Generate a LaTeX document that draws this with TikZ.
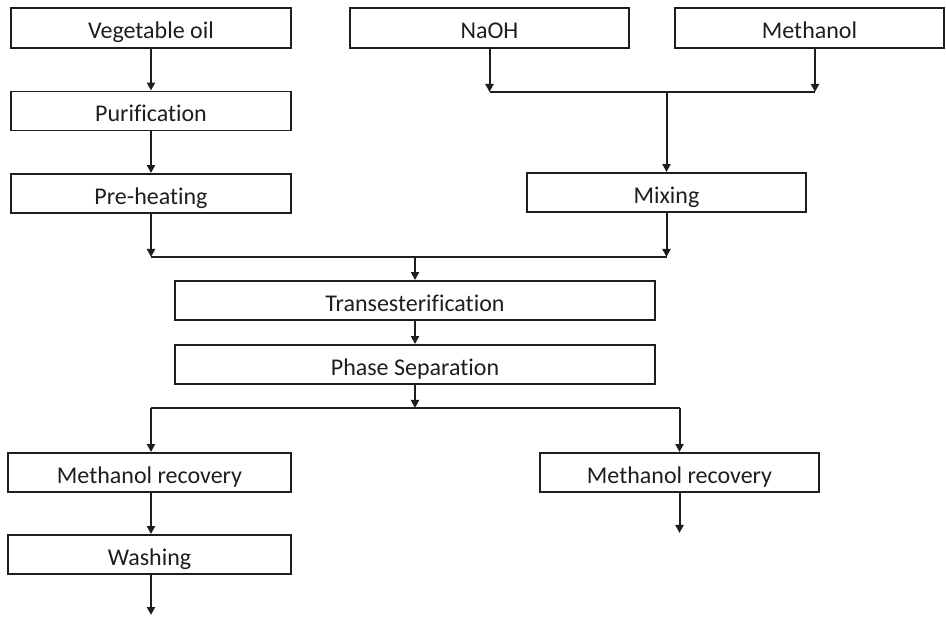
\documentclass[tikz,border=0pt]{standalone}
\usepackage{fontspec}
\setmainfont{Carlito}[Ligatures=NoCommon]
\usetikzlibrary{arrows.meta}
\definecolor{ink}{HTML}{1E1E1E}
\tikzset{
  box/.style={draw=ink, line width=1.9pt, inner sep=0pt, minimum height=39pt, text height=22pt, text depth=0pt, text=ink, font=\fontsize{24}{28}\selectfont},
  conn/.style={draw=ink, line width=2pt},
  arr/.style={conn, -{Triangle[length=8pt,width=8pt]}}
}
\begin{document}
\begin{tikzpicture}[x=1pt,y=-1pt]
\useasboundingbox (0,0) rectangle (946,617);
% boxes
\node[box, minimum width=280pt, minimum height=40pt] (veg) at (151,28) {Vegetable oil};
\node[box, minimum width=280pt] (pur) at (151,111) {Purification};
\node[box, minimum width=280pt] (pre) at (151,193.5) {Pre-heating};
\node[box, minimum width=279pt, minimum height=40pt] (naoh) at (489.5,28) {NaOH};
\node[box, minimum width=269pt, minimum height=40pt] (meth) at (809.5,28) {Methanol};
\node[box, minimum width=279pt] (mix) at (666.5,192.5) {Mixing};
\node[box, minimum width=480pt] (trans) at (415,300.5) {Transesterification};
\node[box, minimum width=480pt] (phase) at (415,364.5) {Phase Separation};
\node[box, minimum width=283pt] (mr1) at (149.5,472.5) {Methanol recovery};
\node[box, minimum width=279pt] (mr2) at (679.5,472.5) {Methanol recovery};
\node[box, minimum width=283pt] (wash) at (149.5,554.5) {Washing};
% junctions
\coordinate (j1) at (489.5,92);
\coordinate (j2) at (815,92);
\coordinate (jm) at (666.5,92);
\coordinate (j3) at (151,257);
\coordinate (j4) at (666.5,257);
\coordinate (j5) at (415,257);
\coordinate (j6) at (415,408);
\coordinate (j7) at (151,408);
\coordinate (j8) at (679.5,408);
\coordinate (e1) at (151,615);
\coordinate (e2) at (679.5,533);
% connectors
\draw[arr] (veg.south) -- (pur.north);
\draw[arr] (pur.south) -- (pre.north);
\draw[arr] (naoh.south) -- (j1);
\draw[arr] (j2 |- meth.south) -- (j2);
\draw[conn] (j1) -- (j2);
\draw[arr] (jm) -- (mix.north);
\draw[arr] (pre.south) -- (j3);
\draw[arr] (mix.south) -- (j4);
\draw[conn] (j3) -- (j4);
\draw[arr] (j5) -- (trans.north);
\draw[arr] (trans.south) -- (phase.north);
\draw[arr] (phase.south) -- (j6);
\draw[conn] (j7) -- (j8);
\draw[arr] (j7) -- (j7 |- mr1.north);
\draw[arr] (j8) -- (mr2.north);
\draw[arr] (j7 |- mr1.south) -- (j7 |- wash.north);
\draw[arr] (j7 |- wash.south) -- (e1);
\draw[arr] (mr2.south) -- (e2);
\end{tikzpicture}
\end{document}
